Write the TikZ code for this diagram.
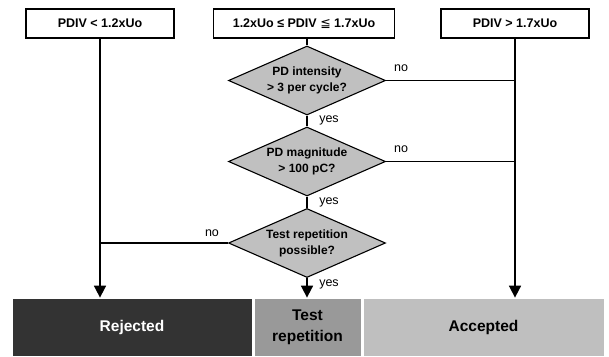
\documentclass[tikz,border=0pt]{standalone}
\usepackage{fontspec}
\setmainfont{Liberation Sans}
\newfontface\symface{DejaVu Sans}
\usetikzlibrary{shapes.geometric,arrows.meta,calc}
\definecolor{diagray}{HTML}{C0C0C0}
\definecolor{rejgray}{HTML}{333333}
\definecolor{repgray}{HTML}{999999}
\definecolor{accgray}{HTML}{BFBFBF}
\begin{document}
\begin{tikzpicture}[x=1pt,y=-1pt,
  topbox/.style={draw, line width=1.2pt, minimum height=29pt, inner sep=0pt,
    font=\fontsize{12.5}{14}\selectfont\bfseries},
  dia/.style={diamond, draw, fill=diagray, line width=1.1pt, aspect=2.28,
    minimum width=157pt, minimum height=69pt, inner sep=0pt, align=center,
    font=\fontsize{12}{16}\selectfont\bfseries},
  outbox/.style={minimum height=58pt, inner sep=0pt, draw=white, line width=0.8pt,
    align=center, font=\fontsize{15.5}{21}\selectfont\bfseries},
  lbl/.style={inner sep=0pt, font=\fontsize{12.5}{14}\selectfont},
  conn/.style={line width=1.7pt},
  arr/.style={conn, -{Triangle[width=12pt,length=12pt]}}]
\useasboundingbox[fill=white] (0,0) rectangle (609,356);

% entry conditions
\node[topbox, minimum width=148pt] (b1) at (100,23.5) {PDIV < 1.2xUo};
\node[topbox, minimum width=181pt] (b2) at (304,23.5) {1.2xUo ≤ PDIV {\symface ≦} 1.7xUo};
\node[topbox, minimum width=148pt] (b3) at (515,23.5) {PDIV > 1.7xUo};

% decisions
\node[dia] (d1) at (307,80.5) {PD intensity\\> 3 per cycle?};
\node[dia] (d2) at (307,161.5) {PD magnitude\\> 100 pC?};
\node[dia] (d3) at (307,243) {Test repetition\\possible?};

% outcomes
\node[outbox, fill=rejgray, text=white, minimum width=240pt] (rej) at (132,327) {Rejected};
\node[outbox, fill=repgray, minimum width=107pt] (tr) at (307.5,327) {Test\\repetition};
\node[outbox, fill=accgray, minimum width=241pt] (acc) at (483.5,327) {Accepted};

% connectors
\draw[conn] (d1.north |- b2.south) -- (d1.north);
\draw[conn] (d1.south) -- (d2.north);
\draw[conn] (d2.south) -- (d3.north);
\draw[conn] (d1.east) -- (d1.east -| b3.south);
\draw[conn] (d2.east) -- (d2.east -| b3.south);
\draw[conn] (d3.west) -- (d3.west -| b1.south);
\draw[arr] (b1.south) -- (b1.south |- rej.north);
\draw[arr] (b3.south) -- (b3.south |- acc.north);
\draw[arr] (d3.south) -- (d3.south |- tr.north);

% branch labels
\node[lbl] (no1) at ($(d1.east)+(15,-12)$) {no};
\node[lbl] (no2) at ($(d2.east)+(15,-12.5)$) {no};
\node[lbl] (no3) at ($(d3.west)+(-16,-10)$) {no};
\node[lbl] (yes1) at ($(d1.south)+(22,5)$) {yes};
\node[lbl] (yes2) at ($(d2.south)+(22,6)$) {yes};
\node[lbl] (yes3) at ($(d3.south)+(22,6)$) {yes};
\end{tikzpicture}
\end{document}
